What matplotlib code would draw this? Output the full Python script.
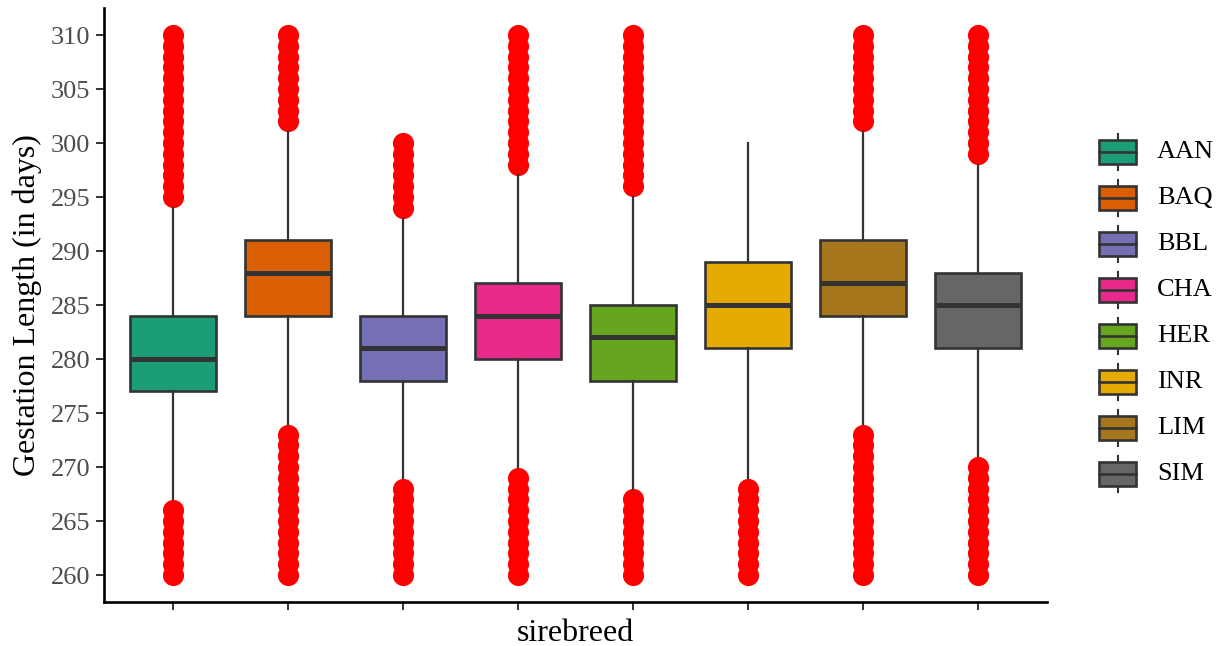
import matplotlib
matplotlib.use("Agg")
import matplotlib.pyplot as plt
from matplotlib.patches import Rectangle

breeds = ["AAN", "BAQ", "BBL", "CHA", "HER", "INR", "LIM", "SIM"]
colors = ["#1B9E77", "#D95F02", "#7570B3", "#E7298A", "#66A61E", "#E6AB02", "#A6761D", "#666666"]

q1 = [277, 284, 278, 280, 278, 281, 284, 281]
med = [280, 288, 281, 284, 282, 285, 287, 285]
q3 = [284, 291, 284, 287, 285, 289, 291, 288]
whislo = [267, 274, 269, 270, 268, 269, 274, 271]
whishi = [294, 301, 293, 297, 295, 300, 301, 298]

out_low = {
    "AAN": [260, 261, 262, 263, 264, 265, 266],
    "BAQ": [260, 261, 262, 263, 264, 265, 266, 267, 268, 269, 270, 271, 272, 273],
    "BBL": [260, 261, 262, 263, 264, 265, 266, 267, 268],
    "CHA": [260, 261, 262, 263, 264, 265, 266, 267, 268, 269],
    "HER": [260, 261, 262, 263, 264, 265, 266, 267],
    "INR": [260, 261, 262, 263, 264, 265, 266, 267, 268],
    "LIM": [260, 261, 262, 263, 264, 265, 266, 267, 268, 269, 270, 271, 272, 273],
    "SIM": [260, 261, 262, 263, 264, 265, 266, 267, 268, 269, 270],
}
out_high = {
    "AAN": [295, 296, 297, 298, 299, 300, 301, 302, 303, 304, 305, 306, 307, 308, 309, 310],
    "BAQ": [302, 303, 304, 305, 306, 307, 308, 309, 310],
    "BBL": [294, 295, 296, 297, 298, 299, 300],
    "CHA": [298, 299, 300, 301, 302, 303, 304, 305, 306, 307, 308, 309, 310],
    "HER": [296, 297, 298, 299, 300, 301, 302, 303, 304, 305, 306, 307, 308, 309, 310],
    "INR": [],
    "LIM": [302, 303, 304, 305, 306, 307, 308, 309, 310],
    "SIM": [299, 300, 301, 302, 303, 304, 305, 306, 307, 308, 309, 310],
}

yticks = [260, 265, 270, 275, 280, 285, 290, 295, 300, 305, 310]

plt.rcParams['font.family'] = ['Liberation Serif', 'DejaVu Serif']

W, H = 1221, 646
fig = plt.figure(figsize=(W / 100, H / 100), dpi=100)
ax = fig.add_axes([104 / W, 1 - 602 / H, (1047 - 104) / W, (602 - 8) / H])

edge = "#333333"
stats = []
for i, b in enumerate(breeds):
    stats.append(dict(label=b, q1=q1[i], med=med[i], q3=q3[i],
                      whislo=whislo[i], whishi=whishi[i],
                      fliers=out_low[b] + out_high[b]))

positions = list(range(1, len(breeds) + 1))
bp = ax.bxp(stats, positions=positions, widths=0.75, patch_artist=True,
            showcaps=False, zorder=2,
            boxprops=dict(edgecolor=edge, linewidth=1.9),
            medianprops=dict(color=edge, linewidth=3.6, solid_capstyle='butt'),
            whiskerprops=dict(color=edge, linewidth=1.6),
            flierprops=dict(marker='o', markerfacecolor='red', markeredgecolor='red',
                            markersize=14.2, linestyle='none'))
for patch, c in zip(bp['boxes'], colors):
    patch.set_facecolor(c)
for fl in bp['fliers']:
    fl.set_zorder(1)

ax.set_xlim(0.4, len(breeds) + 0.6)
ax.set_ylim(257.5, 312.5)
ax.set_yticks(yticks)
ax.set_yticklabels([str(t) for t in yticks])
ax.set_xticks(positions)
ax.set_xticklabels([])
ax.set_xlabel("sirebreed", fontsize=23, labelpad=2)
ax.set_ylabel("Gestation Length (in days)", fontsize=23, labelpad=6)
ax.tick_params(axis='both', colors='#333333', width=1.4, length=6, pad=4,
               labelcolor='#4D4D4D', labelsize=19)
for s in ['top', 'right']:
    ax.spines[s].set_visible(False)
for s in ['left', 'bottom']:
    ax.spines[s].set_linewidth(1.9)
    ax.spines[s].set_color('black')

# legend drawn as boxplot glyphs
lax = fig.add_axes([1080 / W, 1 - 500 / H, 140 / W, 370 / H])
lax.set_xlim(1080, 1220)
lax.set_ylim(500, 130)
lax.axis('off')
for i, (b, c) in enumerate(zip(breeds, colors)):
    yc = 152 + i * 46
    lax.plot([1117.5, 1117.5], [yc - 18, yc + 18], color=edge, lw=1.5, zorder=1)
    lax.add_patch(Rectangle((1099, yc - 12), 37, 24, facecolor=c, edgecolor=edge, lw=1.9, zorder=2))
    lax.plot([1099, 1136], [yc, yc], color=edge, lw=1.9, zorder=3)
    lax.text(1157, yc, b, fontsize=19, va='center', ha='left', color='black')

fig.savefig("out.png", dpi=100)
